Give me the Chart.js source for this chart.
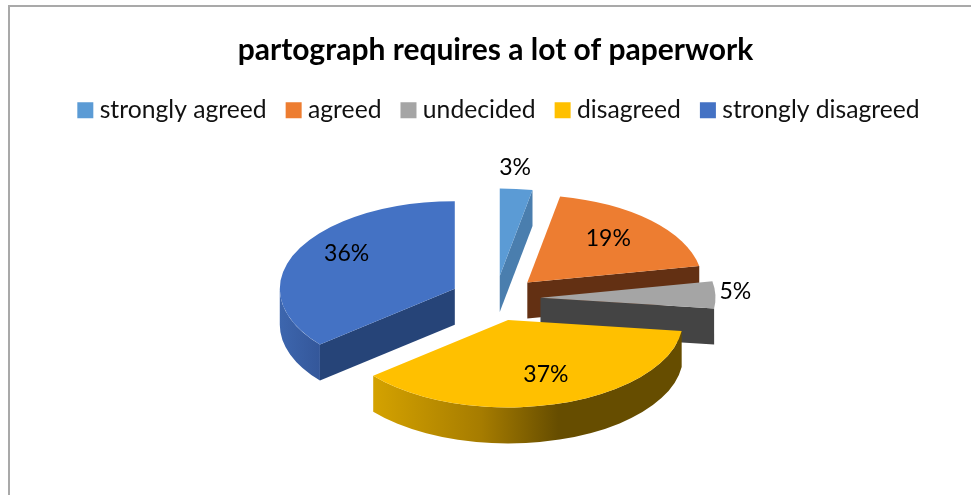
<!DOCTYPE html>
<html><head><meta charset="utf-8">
<style>
html,body{margin:0;padding:0;background:#fff;overflow:hidden}
#wrap{position:relative;width:971px;height:495px}
#frame{position:absolute;left:8px;top:5px;width:971px;height:495px;border-left:2px solid #a9a9a9;border-top:2px solid #a9a9a9;box-sizing:border-box;pointer-events:none}
canvas{position:absolute;left:0;top:0}
</style>
<script src="https://cdn.jsdelivr.net/npm/chart.js@4"></script>
</head><body>
<div id="wrap"><canvas id="c" width="971" height="495"></canvas><div id="frame"></div></div>
<script>
const categories = ['strongly agreed','agreed','undecided','disagreed','strongly disagreed'];
const shares = [3,19,5,37,36];
const faceColors = ['#5B9BD5','#ED7D31','#A5A5A5','#FFC000','#4472C4'];
const wallColors = ['#4A7EAE','#633013','#444444','#664D00','#264478'];
const rimStops = [
  [[0,'#4A7EAE'],[1,'#4A7EAE']],
  [[0,'#633013'],[1,'#633013']],
  [[0,'#444444'],[1,'#444444']],
  [[0,'#D4A200'],[0.35,'#A67C00'],[0.6,'#664D00'],[1,'#664D00']],
  [[0,'#3D66AE'],[1,'#34579A']]
];
const labelReach = [1.225,0.675,1.115,0.675,0.73];
const labelTurnDeg = [-1.3,-1.7,-1,-2.5,7];
const SQUASH = 0.5, DEPTH = 36;

const pie3d = {
  id:'pie3d',
  afterLayout(chart){
    chart.legend.left += 6;
    chart.legend.right += 6;
  },
  beforeDatasetDraw(chart,args){
    const ctx = chart.ctx;
    const arcs = args.meta.data;
    arcs.forEach((arc,i)=>{
      const a0 = arc.startAngle, a1 = arc.endAngle, R = arc.outerRadius;
      const mid = (a0+a1)/2, off = arc.options.offset;
      const ax = arc.x + Math.cos(mid)*off;
      const ay = arc.y + Math.sin(mid)*off*SQUASH;
      const px = t => ax + Math.cos(t)*R;
      const py = t => ay + Math.sin(t)*R*SQUASH;
      ctx.save();
      const wall = t => {
        ctx.beginPath();
        ctx.moveTo(ax,ay); ctx.lineTo(px(t),py(t));
        ctx.lineTo(px(t),py(t)+DEPTH); ctx.lineTo(ax,ay+DEPTH);
        ctx.closePath();
        ctx.fillStyle = wallColors[i]; ctx.fill();
      };
      if (Math.cos(a0)<0) wall(a0);
      if (Math.cos(a1)>0) wall(a1);
      let lo = a0, hi = a1;
      const TWO = Math.PI*2;
      const shift = Math.floor(lo/TWO)*TWO;
      lo -= shift; hi -= shift;
      const from = Math.max(lo,0), to = Math.min(hi,Math.PI);
      if (to>from){
        const g = ctx.createLinearGradient(px(to),0,px(from),0);
        rimStops[i].forEach(s=>g.addColorStop(s[0],s[1]));
        ctx.beginPath();
        ctx.ellipse(ax,ay,R,R*SQUASH,0,from,to,false);
        ctx.lineTo(px(to),py(to)+DEPTH);
        ctx.ellipse(ax,ay+DEPTH,R,R*SQUASH,0,to,from,true);
        ctx.closePath();
        ctx.fillStyle = g; ctx.fill();
      }
      ctx.beginPath();
      ctx.moveTo(ax,ay);
      ctx.ellipse(ax,ay,R,R*SQUASH,0,a0,a1,false);
      ctx.closePath();
      ctx.fillStyle = arc.options.backgroundColor; ctx.fill();
      ctx.restore();
    });
    ctx.save();
    ctx.fillStyle = '#000';
    ctx.font = '23px Lato';
    ctx.textAlign = 'center';
    ctx.textBaseline = 'middle';
    arcs.forEach((arc,i)=>{
      const mid = (arc.startAngle+arc.endAngle)/2, off = arc.options.offset, r = arc.outerRadius*labelReach[i];
      const t = mid + labelTurnDeg[i]*Math.PI/180;
      ctx.fillText(shares[i]+'%',
        arc.x + Math.cos(mid)*off + Math.cos(t)*r,
        arc.y + (Math.sin(mid)*off + Math.sin(t)*r)*SQUASH - 1);
    });
    ctx.restore();
    return false;
  }
};

new Chart(document.getElementById('c'),{
  type:'pie',
  data:{labels:categories,datasets:[{data:shares,backgroundColor:faceColors,borderWidth:0,offset:45}]},
  plugins:[pie3d],
  options:{
    responsive:false,animation:false,devicePixelRatio:1,
    radius:175,
    layout:{padding:{left:20,top:0,bottom:31,right:0}},
    plugins:{
      tooltip:{enabled:false},
      title:{display:true,text:'partograph requires a lot of paperwork',color:'#000',
        font:{family:'Lato',size:30,weight:'bold'},padding:{top:32,bottom:5}},
      legend:{position:'top',labels:{usePointStyle:true,pointStyle:'rect',boxWidth:4,boxHeight:16,padding:25,color:'#111',
        font:{family:'Lato',size:24.7}}}
    }
  }
});
</script>
</body></html>
